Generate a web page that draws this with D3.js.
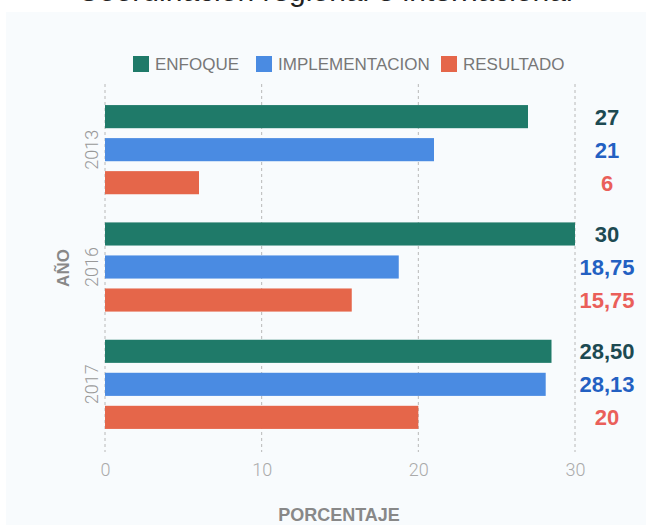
<!DOCTYPE html>
<html><head><meta charset="utf-8">
<script src="https://cdn.jsdelivr.net/npm/d3@7"></script>
<style>body{margin:0;background:#fff;}svg{display:block;font-family:"Liberation Sans",Arial,sans-serif;}</style>
</head><body><svg id="c" width="646" height="525"></svg>
<script>
const years = ["2013","2016","2017"];
const seriesNames = ["ENFOQUE","IMPLEMENTACION","RESULTADO"];
const enfoque = [27, 30, 28.50];
const implementacion = [21, 18.75, 28.13];
const resultado = [6, 15.75, 20];
const valueLabels = [["27","30","28,50"],["21","18,75","28,13"],["6","15,75","20"]];
const xTicks = [0,10,20,30];
const barColors = ["#1f7a69","#4a8be2","#e5664a"];
const labelColors = ["#1d4a52","#2360c2","#ea5f5a"];

const svg = d3.select("#c");
svg.append("rect").attr("x",6).attr("y",12).attr("width",640).attr("height",513).attr("fill","#f8fbfd");
svg.append("text").attr("x",325).attr("y",0.5).attr("text-anchor","middle").attr("font-size",30).attr("fill","#222")
  .text("Coordinación regional e internacional");

const x = d3.scaleLinear().domain([0,30]).range([105,575]);
const y0 = d3.scaleBand().domain(years).range([91,443]).paddingInner(0.24).paddingOuter(0.12);
const y1 = d3.scaleBand().domain(seriesNames).range([0,y0.bandwidth()]).paddingInner(0.3);
const seriesVals = [enfoque, implementacion, resultado];

// grid
svg.append("g").selectAll("line").data(xTicks).join("line")
  .attr("x1",d=>x(d)).attr("x2",d=>x(d)).attr("y1",84).attr("y2",452)
  .attr("stroke","#b8b8b8").attr("stroke-width",1).attr("stroke-dasharray","3,3");

const xAxis = svg.append("g").attr("transform","translate(0,452)")
  .call(d3.axisBottom(x).tickValues(xTicks).tickSize(0).tickPadding(11));
xAxis.select(".domain").remove();
xAxis.selectAll("text").attr("font-size",18).attr("fill","#aaa").attr("font-family","Roboto, 'Liberation Sans', sans-serif").attr("font-weight",300);

// bars
years.forEach((yr,i)=>{
  seriesNames.forEach((s,j)=>{
    svg.append("rect").attr("x",x(0)).attr("y",y0(yr)+y1(s))
      .attr("width",x(seriesVals[j][i])-x(0)).attr("height",y1.bandwidth()).attr("fill",barColors[j]);
    svg.append("text").attr("x",607).attr("y",y0(yr)+y1(s)+y1.bandwidth()/2)
      .attr("dy","0.36em").attr("text-anchor","middle").attr("font-size",22).attr("font-weight","bold")
      .attr("fill",labelColors[j]).text(valueLabels[j][i]);
  });
});

// year labels
const yAxis = svg.append("g").attr("transform","translate(98,0)");
years.forEach(yr=>{
  yAxis.append("text").attr("transform",`translate(0,${y0(yr)+y0.bandwidth()/2}) rotate(-90)`)
    .attr("text-anchor","middle").attr("font-size",18).attr("fill","#999")
    .attr("font-family","Roboto, 'Liberation Sans', sans-serif").attr("font-weight",300).text(yr);
});
svg.append("text").attr("transform","translate(69,268) rotate(-90)").attr("text-anchor","middle")
  .attr("font-size",17).attr("font-weight","bold").attr("fill","#888").text("AÑO");
svg.append("text").attr("x",339).attr("y",521).attr("text-anchor","middle")
  .attr("font-size",18).attr("font-weight","bold").attr("fill","#888").text("PORCENTAJE");

// legend
const legX = [133,256,441];
seriesNames.forEach((s,j)=>{
  svg.append("rect").attr("x",legX[j]).attr("y",56).attr("width",16).attr("height",16).attr("fill",barColors[j]);
  svg.append("text").attr("x",legX[j]+22).attr("y",64).attr("dy","0.36em").attr("font-size",17)
    .attr("fill","#777").text(s);
});
</script></body></html>
